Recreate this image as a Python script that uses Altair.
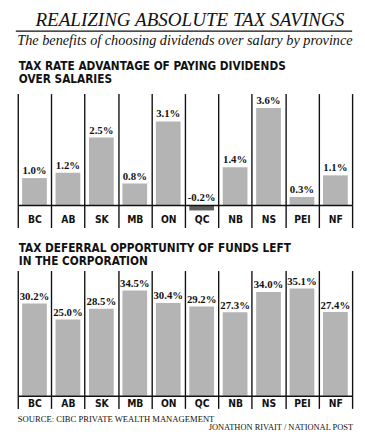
import altair as alt
import pandas as pd

provinces = ["BC", "AB", "SK", "MB", "ON", "QC", "NB", "NS", "PEI", "NF"]
rate_adv = [1.0, 1.2, 2.5, 0.8, 3.1, -0.2, 1.4, 3.6, 0.3, 1.1]
deferral = [30.2, 25.0, 28.5, 34.5, 30.4, 29.2, 27.3, 34.0, 35.1, 27.4]

title = "REALIZING ABSOLUTE TAX SAVINGS"
subtitle = "The benefits of choosing dividends over salary by province"
head1 = ["TAX RATE ADVANTAGE OF PAYING DIVIDENDS", "OVER SALARIES"]
head2 = ["TAX DEFERRAL OPPORTUNITY OF FUNDS LEFT", "IN THE CORPORATION"]
source = "SOURCE: CIBC PRIVATE WEALTH MANAGEMENT"
credit = "JONATHON RIVAIT / NATIONAL POST"

SANS = "DejaVu Sans Condensed, Liberation Sans Narrow, Liberation Sans, sans-serif"
SERIF = "Liberation Serif, DejaVu Serif, serif"
INK = "#111111"
W = 342

one = pd.DataFrame({"a": [0]})


def note(text, x, y, size, font, style="normal", weight="normal", align="left", lh=None):
    kw = dict(text=text, font=font, fontSize=size, fontStyle=style, fontWeight=weight,
              align=align, baseline="alphabetic", color=INK)
    if lh is not None:
        kw["lineHeight"] = lh
    return alt.Chart(one).mark_text(**kw).encode(x=alt.value(x), y=alt.value(y))


def panel(values, ymax, height, tick, labpad, valsize, dy, extra):
    df = pd.DataFrame({"prov": provinces, "v": values,
                       "txt": [f"{v:.1f}%" for v in values]})
    base = alt.Chart(df)
    x = alt.X("prov:N", sort=provinces,
              scale=alt.Scale(paddingInner=0, paddingOuter=0),
              axis=alt.Axis(title=None, orient="bottom", grid=True, gridColor=INK,
                            gridWidth=1.4, gridOpacity=1, tickBand="extent", ticks=True,
                            tickSize=tick, tickColor=INK, tickWidth=1.4, domain=True,
                            domainColor=INK, domainWidth=1.6, labelAngle=0, labelFont=SANS,
                            labelFontSize=10.5, labelFontWeight="bold", labelColor=INK,
                            labelPadding=labpad, labelBaseline="alphabetic", zindex=1))
    yscale = alt.Scale(domain=[0, ymax], nice=False, zero=True)
    bars = base.mark_bar(width=alt.RelativeBandSize(0.74)).encode(
        x=x,
        y=alt.Y("v:Q", scale=yscale, axis=None),
        color=alt.condition("datum.v < 0", alt.value("#5f5f5f"), alt.value("#b4b4b4")),
    )
    labels = base.transform_calculate(lab="max(datum.v, 0)").mark_text(
        font=SERIF, fontWeight="bold", fontSize=valsize, baseline="alphabetic",
        dy=dy, color=INK,
    ).encode(
        x=x,
        y=alt.Y("lab:Q", scale=yscale, axis=None),
        text="txt:N",
    )
    return alt.layer(bars, labels, *extra).properties(width=W, height=height)


p1_extra = [
    note(title, 176, -69, 19.5, SERIF, style="italic", align="center"),
    alt.Chart(one).mark_rule(color=INK, strokeWidth=1.3).encode(
        x=alt.value(-2), x2=alt.value(342), y=alt.value(-64)),
    note(subtitle, 171, -50, 14.6, SERIF, style="italic", align="center"),
    note(head1, 1, -24, 12, SANS, weight="bold", lh=13.3),
]
p2_extra = [
    note(head2, 1, -19, 12, SANS, weight="bold", lh=13.3),
    note(source, 0, 155, 8.8, SERIF),
    note(credit, 343, 163.5, 8.6, SERIF, align="right"),
]

p1 = panel(rate_adv, 4.13, 114, 23, -5, 11, -4, p1_extra)
p2 = panel(deferral, 41, 128, 13, -2, 11, -3.5, p2_extra)

chart = alt.vconcat(p1, p2, spacing=67, bounds="flush").properties(
    padding={"left": 7, "top": -2.4, "right": 4, "bottom": 4},
    background="white",
).configure_view(stroke=None)

chart.save("out.html", embed_options={"renderer": "svg", "actions": False})
